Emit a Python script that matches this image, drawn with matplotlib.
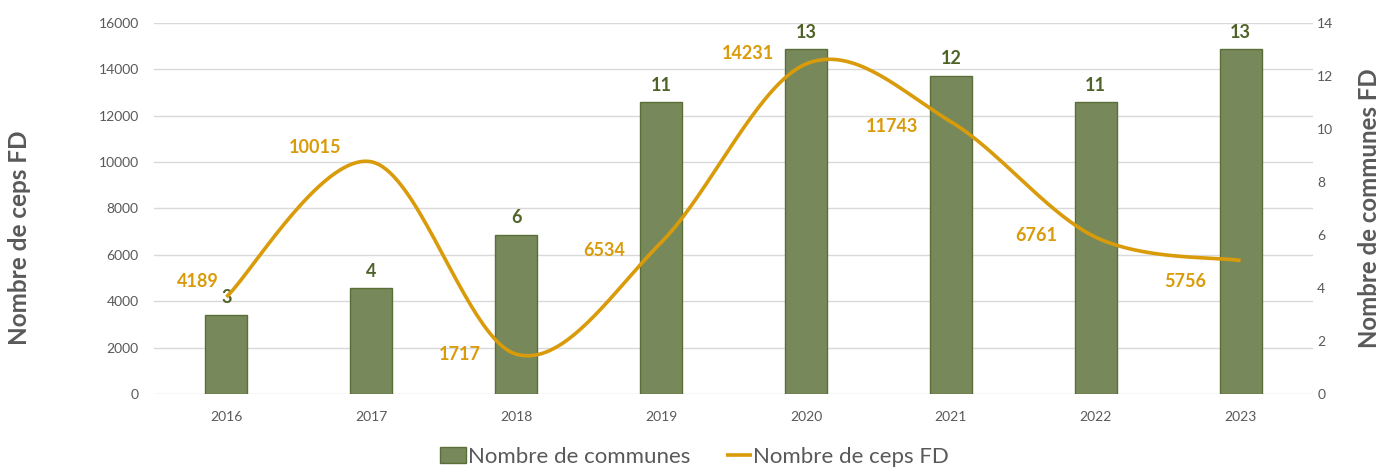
import numpy as np
import matplotlib
matplotlib.use("Agg")
import matplotlib.pyplot as plt

# ---- data ----
years = ["2016", "2017", "2018", "2019", "2020", "2021", "2022", "2023"]
communes = [3, 4, 6, 11, 13, 12, 11, 13]
ceps = [4189, 10015, 1717, 6534, 14231, 11743, 6761, 5756]
left_ticks = [0, 2000, 4000, 6000, 8000, 10000, 12000, 14000, 16000]
right_ticks = [0, 2, 4, 6, 8, 10, 12, 14]
# label offsets in pixels (dx, dy) for the line labels
ceps_label_offsets = [(-29, 15), (-56, 14), (-56, 0), (-57, -8),
                      (-58, 11), (-59, -5), (-59, 2), (-55, -21)]

FONT = ["Lato", "DejaVu Sans"]
plt.rcParams['font.family'] = FONT

BAR_FACE = "#77895A"
BAR_EDGE = "#5A6E38"
BAR_TXT = "#4F6228"
LINE_C = "#D99B09"
GRAY = "#595959"

fig = plt.figure(figsize=(13.89, 4.68), dpi=100)
ax_l = fig.add_axes([0.1109, 0.1581, 0.8344, 0.7928])
ax_r = ax_l.twinx()

x = np.arange(len(years))

# gridlines follow the left axis, drawn behind bars
for t in left_ticks:
    ax_r.axhline(t * 14 / 16000, color="#D9D9D9", linewidth=1.0, zorder=0)

# bars on the right axis
ax_r.bar(x, communes, width=0.29, color=BAR_FACE, edgecolor=BAR_EDGE,
         linewidth=1.0, zorder=2, label="Nombre de communes")
ax_r.set_ylim(0, 14)
ax_r.set_yticks(right_ticks)
for xi, v in zip(x, communes):
    ax_r.annotate(str(v), (xi, v), xytext=(0, 17), textcoords="offset pixels",
                  ha="center", va="center", fontsize=13, fontweight="bold",
                  color=BAR_TXT)

# smoothed line (Excel-like Bezier smoothing) on left axis
def smooth(xs, ys, n=40):
    P = np.column_stack([xs, ys]).astype(float)
    out = []
    m = len(P)
    for i in range(m - 1):
        p0 = P[i - 1] if i > 0 else P[i]
        p1 = P[i]
        p2 = P[i + 1]
        p3 = P[i + 2] if i + 2 < m else P[i + 1]
        c1 = p1 + (p2 - p0) / 6.0
        c2 = p2 - (p3 - p1) / 6.0
        t = np.linspace(0, 1, n)[:, None]
        seg = ((1 - t) ** 3) * p1 + 3 * ((1 - t) ** 2) * t * c1 + \
              3 * (1 - t) * t ** 2 * c2 + t ** 3 * p2
        out.append(seg if i == 0 else seg[1:])
    s = np.vstack(out)
    return s[:, 0], s[:, 1]

sx, sy = smooth(x, ceps)

ax_l.set_zorder(ax_r.get_zorder() + 1)
ax_l.patch.set_visible(False)
ax_l.plot(sx, sy, color=LINE_C, linewidth=2.6, solid_capstyle="butt",
          label="Nombre de ceps FD", zorder=3)
ax_l.set_ylim(0, 16000)
ax_l.set_yticks(left_ticks)
for xi, v, (dx, dy) in zip(x, ceps, ceps_label_offsets):
    ax_l.annotate(str(v), (xi, v), xytext=(dx, dy), textcoords="offset pixels",
                  ha="center", va="center", fontsize=13, fontweight="bold",
                  color=LINE_C)

ax_l.set_xlim(-0.5, len(years) - 0.5)
ax_l.set_xticks(x)
ax_l.set_xticklabels(years)

for a in (ax_l, ax_r):
    for s in a.spines.values():
        s.set_visible(False)
    a.tick_params(length=0, labelsize=10, labelcolor=GRAY)
ax_l.tick_params(axis="y", pad=11)
ax_r.tick_params(axis="y", pad=3)
ax_l.tick_params(axis="x", pad=12)

ax_l.set_ylabel("Nombre de ceps FD", fontsize=17.5, fontweight="bold",
                color=GRAY)
ax_l.yaxis.set_label_coords(-0.106, 0.42)
ax_r.set_ylabel("Nombre de communes FD", fontsize=17.3, fontweight="bold",
                color=GRAY)
ax_r.yaxis.set_label_coords(1.039, 0.5)

h1, l1 = ax_r.get_legend_handles_labels()
h2, l2 = ax_l.get_legend_handles_labels()
fig.legend(h1 + h2, l1 + l2, loc="center", bbox_to_anchor=(0.5, 0.024),
           ncol=2, frameon=False, fontsize=16, labelcolor=GRAY,
           handlelength=1.2, handleheight=0.68, handletextpad=0.05,
           columnspacing=1.6)

fig.savefig("out.png", dpi=100)
